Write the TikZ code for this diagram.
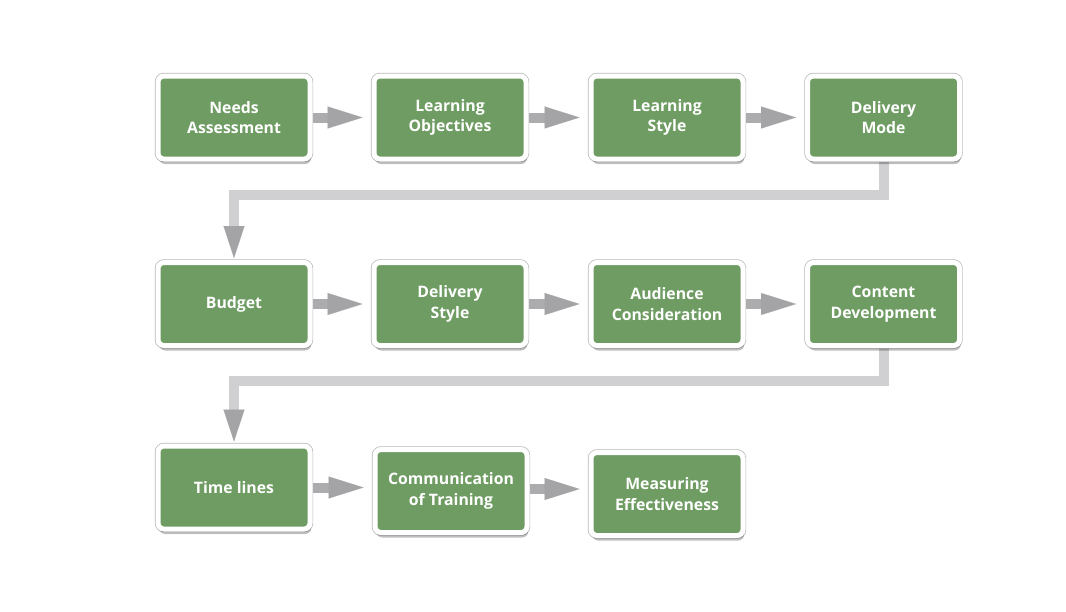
\documentclass[tikz,border=0pt]{standalone}
\usepackage{fontspec}
\setmainfont{Open Sans}
\usetikzlibrary{arrows.meta,shadows,backgrounds,calc}
\definecolor{boxgreen}{HTML}{6E9C62}
\definecolor{arrowgray}{HTML}{ACACAE}
\definecolor{tipgray}{HTML}{A4A4A6}
\definecolor{conngray}{HTML}{D0D0D3}
\definecolor{rimgray}{HTML}{B8B8B8}
\tikzset{
  stepbox/.style={
    rectangle, rounded corners=6pt,
    minimum width=152pt, minimum height=83pt,
    fill=boxgreen, draw=white, line width=5pt,
    preaction={draw=rimgray, line width=6.4pt},
    drop shadow={shadow xshift=1.2pt, shadow yshift=-5pt, opacity=0.25, fill=black},
    text=white, align=center,
    font=\fontsize{15.8}{20.5}\selectfont\bfseries
  },
  flow/.style={draw=arrowgray, line width=10pt, shorten >=9pt,
    -{Triangle[length=35pt,width=22pt,line width=0.1pt,color=tipgray]}},
  turn/.style={draw=conngray, line width=10pt, shorten >=2pt,
    -{Triangle[length=32pt,width=21pt,line width=0.1pt,color=tipgray]}}
}
\begin{document}
\begin{tikzpicture}[x=1pt,y=-1pt]
\useasboundingbox (0,0) rectangle (1066,611);
% row 1
\node[stepbox] (na) at (234,117.5) {Needs\\Assessment};
\node[stepbox] (lo) at (450,117.5) {Learning\\Objectives};
\node[stepbox] (ls) at (667,117.5) {Learning\\Style};
\node[stepbox] (dm) at (883.5,117.5) {Delivery\\Mode};
% row 2
\node[stepbox] (bu) at (234,304) {Budget};
\node[stepbox] (ds) at (450,304) {Delivery\\Style};
\node[stepbox] (ac) at (667,304) {Audience\\Consideration};
\node[stepbox] (cd) at (883.5,304) {Content\\Development};
% row 3
\node[stepbox] (tl) at (234,487.5) {Time lines};
\node[stepbox] (ct) at (451,491) {Communication\\of Training};
\node[stepbox] (me) at (667,494) {Measuring\\Effectiveness};
\begin{scope}[on background layer]
  \fill[white] (0,0) rectangle (1066,611);
  \draw[flow] (na.east) -- (lo.west);
  \draw[flow] (lo.east) -- (ls.west);
  \draw[flow] (ls.east) -- (dm.west);
  \draw[flow] (bu.east) -- (ds.west);
  \draw[flow] (ds.east) -- (ac.west);
  \draw[flow] (ac.east) -- (cd.west);
  \draw[flow] (tl.east) -- (tl.east -| ct.west);
  \draw[flow] ($(ct.east)+(0,-2)$) -- ($(ct.east -| me.west)+(0,-2)$);
  \coordinate (k1) at ($(dm.south)+(0,33)$);
  \coordinate (k2) at ($(cd.south)+(0,33)$);
  \draw[turn] (dm.south) -- (k1) -| (bu.north);
  \draw[turn] (cd.south) -- (k2) -| (tl.north);
\end{scope}
\end{tikzpicture}
\end{document}
